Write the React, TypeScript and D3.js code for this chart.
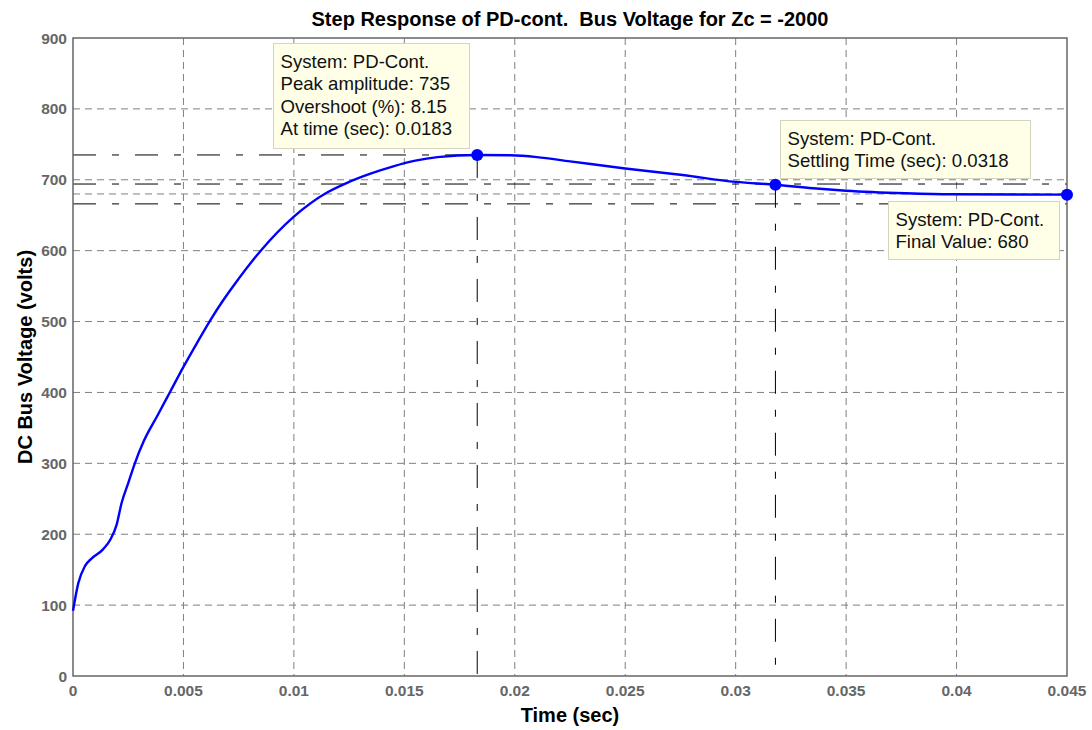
import React from "react";
import * as d3 from "d3";

// ---- data ----
const timeSec = [
  0, 0.00024, 0.00054, 0.00085, 0.00137, 0.0017, 0.00198, 0.0022, 0.0025, 0.0028,
  0.0032, 0.0038, 0.0044, 0.005, 0.0056, 0.0062, 0.0068, 0.0073, 0.0085, 0.01,
  0.0115, 0.0125, 0.0135, 0.0145, 0.0155, 0.0165, 0.0183, 0.0198, 0.021, 0.0225,
  0.025, 0.0276, 0.03, 0.0318, 0.0335, 0.035, 0.0377, 0.0398, 0.045,
];
const busVoltage = [
  92, 131, 155, 166, 179, 193, 214, 244, 272, 300,
  331, 366, 401, 436, 469, 501, 530, 552, 600, 648,
  682, 697, 709, 719, 727, 732, 735, 734.5, 732, 726,
  716, 706.7, 697, 693, 688, 684.6, 681, 679.5, 679,
];

const xTicks = [0, 0.005, 0.01, 0.015, 0.02, 0.025, 0.03, 0.035, 0.04, 0.045];
const xTickLabels = ["0", "0.005", "0.01", "0.015", "0.02", "0.025", "0.03", "0.035", "0.04", "0.045"];
const yTicks = [0, 100, 200, 300, 400, 500, 600, 700, 800, 900];

const peakTime = 0.0183;
const peakAmplitude = 735;
const overshootPct = 8.15;
const settlingTime = 0.0318;
const settlingVoltage = 693;
const finalValue = 680;
const finalTime = 0.045;
const finalPointVoltage = 679;
const settlingBand = [694, 666];

const titleText = "Step Response of PD-cont.  Bus Voltage for Zc = -2000";
const xLabelText = "Time (sec)";
const yLabelText = "DC Bus Voltage (volts)";

// ---- layout ----
const W = 1092;
const H = 730;
const plotLeft = 73;
const plotRight = 1067;
const plotTop = 38;
const plotBottom = 676;

const FONT = "'Liberation Sans', Arial, Helvetica, sans-serif";

export default function App() {
  const x = d3.scaleLinear().domain([0, 0.045]).range([plotLeft, plotRight]);
  const y = d3.scaleLinear().domain([0, 900]).range([plotBottom, plotTop]);

  const pts: [number, number][] = timeSec.map((t, i) => [t, busVoltage[i]]);
  const line = d3
    .line<[number, number]>()
    .x((d) => x(d[0]))
    .y((d) => y(d[1]))
    .curve(d3.curveMonotoneX);

  const gridColor = "#7f7f7f";
  const axisColor = "#666666";
  const dashDot = "23,16,7,16";
  const gridDash = "7,5";

  const tips = [
    {
      x: 273.5, y: 43.5, w: 196, h: 105,
      lines: [
        "System: PD-Cont.",
        `Peak amplitude: ${peakAmplitude}`,
        `Overshoot (%): ${overshootPct}`,
        `At time (sec): ${peakTime}`,
      ],
    },
    {
      x: 780.5, y: 120.5, w: 250, h: 58,
      lines: ["System: PD-Cont.", `Settling Time (sec): ${settlingTime}`],
    },
    {
      x: 888.5, y: 201.5, w: 171, h: 58,
      lines: ["System: PD-Cont.", `Final Value: ${finalValue}`],
    },
  ];

  return (
    <svg
      width={W}
      height={H}
      style={{ position: "absolute", left: 0, top: 0, background: "#fff" }}
    >
      <rect x={0} y={0} width={W} height={H} fill="#fff" />

      {/* grid */}
      {xTicks.slice(1, -1).map((t) => (
        <line key={"gx" + t} x1={x(t)} x2={x(t)} y1={plotTop} y2={plotBottom}
          stroke={gridColor} strokeWidth={1} strokeDasharray={gridDash} />
      ))}
      {yTicks.slice(1, -1).map((v) => (
        <line key={"gy" + v} x1={plotLeft} x2={plotRight} y1={y(v)} y2={y(v)}
          stroke={gridColor} strokeWidth={1} strokeDasharray={gridDash} />
      ))}

      {/* characteristic reference lines */}
      <line x1={plotLeft} x2={x(peakTime)} y1={y(peakAmplitude)} y2={y(peakAmplitude)}
        stroke="#000" strokeWidth={1} strokeDasharray={dashDot} />
      <line x1={x(peakTime)} x2={x(peakTime)} y1={y(peakAmplitude)} y2={plotBottom}
        stroke="#000" strokeWidth={1} strokeDasharray={dashDot} />
      {settlingBand.map((v) => (
        <line key={"sb" + v} x1={plotLeft} x2={plotRight} y1={y(v)} y2={y(v)}
          stroke="#000" strokeWidth={1} strokeDasharray={dashDot} />
      ))}
      <line x1={plotLeft} x2={plotRight} y1={y(finalValue)} y2={y(finalValue)}
        stroke={gridColor} strokeWidth={1} strokeDasharray={gridDash} />
      <line x1={x(settlingTime)} x2={x(settlingTime)} y1={y(settlingVoltage)} y2={plotBottom}
        stroke="#000" strokeWidth={1} strokeDasharray={dashDot} />

      {/* axes box */}
      <rect x={plotLeft} y={plotTop} width={plotRight - plotLeft} height={plotBottom - plotTop}
        fill="none" stroke={axisColor} strokeWidth={1.5} />

      {/* response curve */}
      <path d={line(pts) || ""} fill="none" stroke="#0000ff" strokeWidth={2.4} />

      {/* markers */}
      <circle cx={x(peakTime)} cy={y(peakAmplitude)} r={6} fill="#0000ff" />
      <circle cx={x(settlingTime)} cy={y(settlingVoltage)} r={6} fill="#0000ff" />
      <circle cx={x(finalTime)} cy={y(finalPointVoltage)} r={6} fill="#0000ff" />

      {/* data tips */}
      {tips.map((tp, i) => (
        <g key={"tip" + i}>
          <rect x={tp.x} y={tp.y} width={tp.w} height={tp.h} fill="#ffffe8" stroke="#d4d4c0" strokeWidth={1} />
          {tp.lines.map((s, j) => (
            <text key={j} x={tp.x + 7} y={tp.y + 24.5 + j * 22.3} fontFamily={FONT} fontSize={18.6} fill="#111">
              {s}
            </text>
          ))}
        </g>
      ))}

      {/* tick labels */}
      {xTicks.map((t, i) => (
        <text key={"xl" + t} x={x(t)} y={696} textAnchor="middle" fontFamily={FONT}
          fontWeight="bold" fontSize={15.5} fill={axisColor}>
          {xTickLabels[i]}
        </text>
      ))}
      {yTicks.map((v) => (
        <text key={"yl" + v} x={plotLeft - 6} y={y(v)} dy="0.36em" textAnchor="end" fontFamily={FONT}
          fontWeight="bold" fontSize={15.5} fill={axisColor}>
          {v}
        </text>
      ))}

      {/* title and axis labels */}
      <text x={(plotLeft + plotRight) / 2} y={26} textAnchor="middle" fontFamily={FONT}
        fontWeight="bold" fontSize={20} fill="#000" style={{ whiteSpace: "pre" }}>
        {titleText}
      </text>
      <text x={(plotLeft + plotRight) / 2} y={722} textAnchor="middle" fontFamily={FONT}
        fontWeight="bold" fontSize={20} fill="#000">
        {xLabelText}
      </text>
      <text transform={`translate(32, ${(plotTop + plotBottom) / 2}) rotate(-90)`} textAnchor="middle"
        fontFamily={FONT} fontWeight="bold" fontSize={20} fill="#000">
        {yLabelText}
      </text>
    </svg>
  );
}
